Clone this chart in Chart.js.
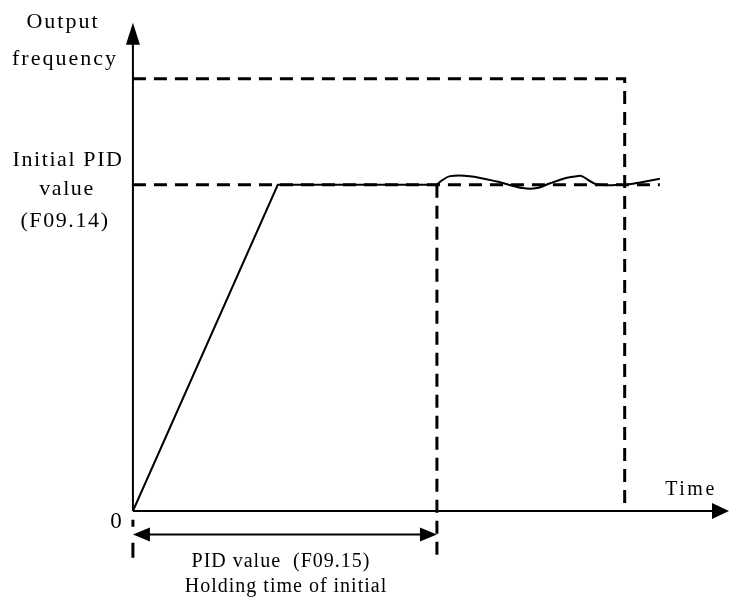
<!DOCTYPE html>
<html>
<head>
<meta charset="utf-8">
<script src="https://cdn.jsdelivr.net/npm/chart.js@4.4.0/dist/chart.umd.min.js"></script>
<style>
  html, body { margin: 0; padding: 0; background: #fff; }
  canvas { display: block; }
</style>
</head>
<body>
<canvas id="grafica" width="729" height="598"></canvas>
<script>
// datos (unidades arbitrarias: tiempo 0..100, frecuencia 0..94)
var rampaX = [0, 24.3, 51.0];
var rampaY = [0, 60, 60];

var ondaX = [51.0, 51.7, 53.2, 56.5, 61.1, 65.4, 67.8, 70.0, 72.8, 74.5, 75.3, 77.8, 82.2, 83.9, 88.4];
var ondaY = [60.0, 60.7, 61.6, 61.6, 60.6, 59.4, 59.4, 60.3, 61.3, 61.6, 61.6, 60.1, 60.0, 60.2, 61.1];

var nivelPID = 60;
var nivelSalida = 79.5;
var tiempoRetencion = 51.0;
var tiempoCorte = 82.5;
var finLinea = 88.4;
var finEjeX = 100;
var finEjeY = 89.8;
var inicioCota = -1.6;
var fondoCota = -8.6;
var alturaCota = -4.3;

var etiquetasY = ["Output", "frequency"];
var etiquetasPID = ["Initial PID", "value", "(F09.14)"];
var etiquetaCero = "0";
var etiquetaTiempo = "Time";
var etiquetasCota = ["PID value  (F09.15)", "Holding time of initial"];

function puntos(xs, ys) {
    var lista = [];
    for (var i = 0; i < xs.length; i++) {
        lista.push({x: xs[i], y: ys[i]});
    }
    return lista;
}

function linea(datos, ancho, guiones, tension) {
    return {
        data: datos,
        showLine: true,
        borderColor: "#000",
        borderWidth: ancho,
        borderDash: guiones || [],
        tension: tension || 0,
        pointRadius: 0,
        fill: false
    };
}

var guion = [13, 8];

var datasets = [
    linea(puntos([0, finLinea], [nivelPID, nivelPID]), 3, guion),
    linea(puntos([0, tiempoCorte, tiempoCorte], [nivelSalida, nivelSalida, 0]), 3, guion),
    linea(puntos([tiempoRetencion, tiempoRetencion], [nivelPID, fondoCota]), 3, guion),
    linea(puntos([0, 0], [inicioCota, fondoCota]), 3, [7, 16, 16, 100]),
    linea(puntos(rampaX, rampaY), 2),
    linea(puntos(ondaX, ondaY), 2, null, 0.35)
];

function texto(ctx, t, x, y, tam, espacio) {
    ctx.font = tam + "px 'Liberation Serif', 'Times New Roman', serif";
    ctx.letterSpacing = espacio + "px";
    var w = ctx.measureText(t).width;
    ctx.fillText(t, x - w / 2, y);
}

function flecha(ctx, x, y, dir, largo, medio) {
    ctx.beginPath();
    if (dir == "arriba") {
        ctx.moveTo(x, y); ctx.lineTo(x - medio, y + largo); ctx.lineTo(x + medio, y + largo);
    } else if (dir == "derecha") {
        ctx.moveTo(x, y); ctx.lineTo(x - largo, y - medio); ctx.lineTo(x - largo, y + medio);
    } else {
        ctx.moveTo(x, y); ctx.lineTo(x + largo, y - medio); ctx.lineTo(x + largo, y + medio);
    }
    ctx.closePath();
    ctx.fill();
}

var dibujoEjes = {
    id: "ejes",
    afterDatasetsDraw: function (chart) {
        var ctx = chart.ctx;
        var sx = chart.scales.x;
        var sy = chart.scales.y;
        var x0 = sx.getPixelForValue(0);
        var y0 = sy.getPixelForValue(0);
        var xFin = sx.getPixelForValue(finEjeX);
        var yFin = sy.getPixelForValue(finEjeY);
        var xRet = sx.getPixelForValue(tiempoRetencion);
        var yCota = sy.getPixelForValue(alturaCota);

        ctx.save();
        ctx.strokeStyle = "#000";
        ctx.fillStyle = "#000";
        ctx.lineWidth = 2;
        ctx.setLineDash([]);

        // ejes
        ctx.beginPath();
        ctx.moveTo(x0, y0);
        ctx.lineTo(x0, yFin + 10);
        ctx.moveTo(x0, y0);
        ctx.lineTo(xFin - 10, y0);
        ctx.stroke();
        flecha(ctx, x0, yFin, "arriba", 22, 7);
        flecha(ctx, xFin, y0, "derecha", 17, 8);

        // cota del tiempo de retencion
        ctx.beginPath();
        ctx.moveTo(x0 + 10, yCota);
        ctx.lineTo(xRet - 10, yCota);
        ctx.stroke();
        flecha(ctx, x0, yCota, "izquierda", 17, 7);
        flecha(ctx, xRet, yCota, "derecha", 17, 7);

        // textos
        ctx.textBaseline = "alphabetic";
        texto(ctx, etiquetasY[0], 63, 28, 22, 2);
        texto(ctx, etiquetasY[1], 65, 65, 22, 2);
        texto(ctx, etiquetasPID[0], 68, 166, 22, 1.6);
        texto(ctx, etiquetasPID[1], 67, 195, 22, 1.6);
        texto(ctx, etiquetasPID[2], 65, 227, 22, 1.6);
        texto(ctx, etiquetaCero, x0 - 17, y0 + 17, 23, 0);
        texto(ctx, etiquetaTiempo, 691, y0 - 16, 20, 2.5);
        texto(ctx, etiquetasCota[0], 281, 567, 20, 1);
        texto(ctx, etiquetasCota[1], 286, 592, 20, 1);
        ctx.restore();
    }
};

new Chart("grafica", {
    type: "scatter",
    data: { datasets: datasets },
    options: {
        responsive: false,
        animation: false,
        layout: { padding: 0 },
        plugins: { legend: { display: false }, tooltip: { enabled: false } },
        scales: {
            x: { type: "linear", min: -22.3, max: 100, display: false },
            y: { type: "linear", min: -16, max: 94, display: false }
        }
    },
    plugins: [dibujoEjes]
});
</script>
</body>
</html>
